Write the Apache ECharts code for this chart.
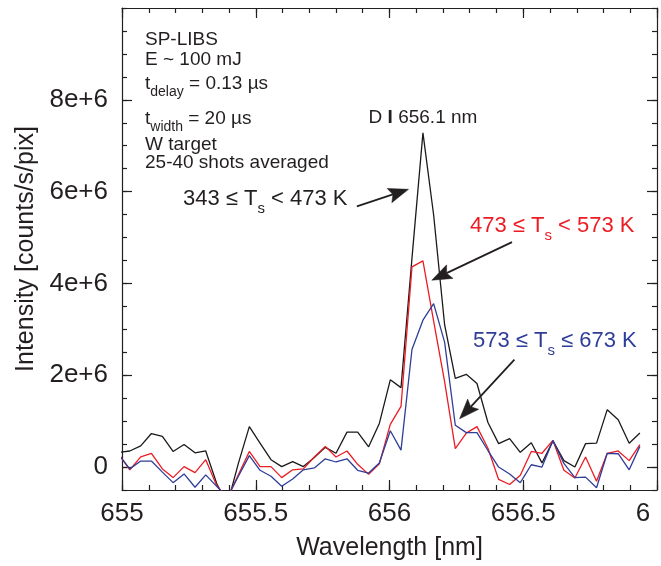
<!DOCTYPE html>
<html><head><meta charset="utf-8">
<script src="https://cdn.jsdelivr.net/npm/echarts@6/dist/echarts.min.js"></script>
<style>html,body{margin:0;padding:0;background:#fff}#c{width:661px;height:566px}</style>
</head><body><div id="c"></div>
<script>
// Wavelength of each spectrometer pixel [nm]
const wavelength = [654.988, 655.029, 655.070, 655.110, 655.151, 655.191, 655.232, 655.273, 655.313, 655.354,
  655.394, 655.435, 655.476, 655.516, 655.557, 655.597, 655.638, 655.678, 655.719, 655.760,
  655.800, 655.841, 655.881, 655.922, 655.962, 656.003, 656.043, 656.084, 656.125, 656.165,
  656.206, 656.246, 656.287, 656.327, 656.368, 656.408, 656.449, 656.489, 656.530, 656.570,
  656.611, 656.652, 656.693, 656.733, 656.774, 656.814, 656.855, 656.896, 656.936];
// Intensity in units of 1e+6 counts/s/pix
const ts343to473 = [0.32, 0.35, 0.46, 0.73, 0.67, 0.34, 0.49, 0.31, 0.35, -0.36, -0.81, 0.08,
  0.88, 0.52, 0.16, 0.01, 0.12, 0.01, 0.21, 0.43, 0.30, 0.76, 0.76, 0.44, 0.95,
  1.90, 1.73, 4.55, 7.28, 5.49, 3.10, 1.93, 2.02, 1.82, 0.97, 0.51, 0.62, 0.32, 0.53,
  0.09, 0.57, 0.14, 0.00, 0.51, 0.52, 1.25, 1.03, 0.52, 0.74];
const ts473to573 = [0.28, -0.06, 0.22, 0.30, -0.04, -0.23, 0.01, -0.12, 0.16, -0.40, -0.68, -0.17,
  0.34, 0.01, 0.01, -0.23, -0.06, -0.04, 0.22, 0.45, 0.22, 0.35, 0.06, -0.16, 0.07,
  0.93, 1.32, 4.36, 4.49, 3.18, 1.86, 0.40, 0.74, 0.88, 0.41, -0.27, -0.38, -0.18, 0.34,
  0.30, 0.58, -0.07, -0.24, 0.22, -0.31, 0.30, 0.35, 0.14, 0.49];
const ts573to673 = [0.27, -0.04, 0.13, 0.13, -0.11, -0.34, -0.15, -0.44, -0.17, -0.42, -0.66, -0.20,
  0.25, -0.07, -0.20, -0.42, -0.26, -0.06, -0.02, 0.18, 0.11, 0.18, -0.07, -0.13, 0.09,
  0.79, 0.37, 2.56, 3.20, 3.56, 2.72, 0.91, 0.75, 0.75, 0.36, 0.00, -0.15, -0.34, 0.05,
  0.00, 0.58, 0.08, -0.23, -0.22, -0.45, 0.30, 0.29, -0.06, 0.45];

const xTickValues = [655, 655.5, 656, 656.5, 657];
const xTickLabels = ['655', '655.5', '656', '656.5', '6'];
const yTickValues = [0, 2, 4, 6, 8];
const yTickLabels = ['0', '2e+6', '4e+6', '6e+6', '8e+6'];

// Annotation arrows in data coordinates: [tail, tip]
const arrowPoints = [
  [[655.878, 5.68], [656.071, 6.05]],
  [[656.458, 4.90], [656.158, 4.07]],
  [[656.467, 2.34], [656.262, 1.05]]
];

const FONT = '"Liberation Sans", Arial, Helvetica, sans-serif';
const INK = '#231f20';
const RED = '#ec1c24';
const BLUE = '#2e3d98';

const chart = echarts.init(document.getElementById('c'), null, {renderer: 'canvas'});

function pair(arr) { return wavelength.map((w, i) => [w, arr[i]]); }

const tickStyle = {color: INK, width: 1.2};
function xAx(pos, interval, len, main) {
  return {
    type: 'value', position: pos, min: 655, max: 657, interval: interval,
    axisLine: {show: !!main, onZero: false, lineStyle: tickStyle},
    axisTick: {show: true, inside: true, length: len, lineStyle: tickStyle},
    axisLabel: {show: false}, splitLine: {show: false}
  };
}
function yAx(pos, len, main, custom) {
  const a = {
    type: 'value', position: pos, min: -0.5, max: 10, interval: 0.5,
    axisLine: {show: !!main, onZero: false, lineStyle: tickStyle},
    axisTick: {show: true, inside: true, length: len, lineStyle: tickStyle},
    axisLabel: {show: false}, splitLine: {show: false}
  };
  if (custom) { a.axisTick.customValues = yTickValues; }
  return a;
}

const xMain = xAx('bottom', 0.5, 10, true);
xMain.axisLabel = {
  show: true, margin: 11, fontSize: 26, fontFamily: FONT, color: INK,
  formatter: function (v) {
    const i = xTickValues.findIndex(t => Math.abs(t - v) < 1e-6);
    if (i < 0) return '';
    if (i === xTickValues.length - 1) return '{r|' + xTickLabels[i] + '}';
    return xTickLabels[i];
  },
  rich: {r: {fontSize: 26, fontFamily: FONT, color: INK, padding: [0, 28, 0, 0]}}
};
xMain.name = 'Wavelength [nm]';
xMain.nameLocation = 'middle';
xMain.nameGap = 46;
xMain.nameTextStyle = {fontSize: 25, fontFamily: FONT, color: INK};

const yMain = yAx('left', 10, true, true);
yMain.axisLabel = {
  show: true, margin: 14, fontSize: 26, fontFamily: FONT, color: INK,
  customValues: yTickValues,
  formatter: function (v) {
    const i = yTickValues.findIndex(t => Math.abs(t - v) < 1e-6);
    return i < 0 ? '' : yTickLabels[i];
  }
};
yMain.name = 'Intensity [counts/s/pix]';
yMain.nameLocation = 'middle';
yMain.nameGap = 78;
yMain.nameRotate = 90;
yMain.nameTextStyle = {fontSize: 25, fontFamily: FONT, color: INK};

const option = {
  animation: false,
  backgroundColor: '#fff',
  grid: {left: 122, right: 4, top: 8, bottom: 76, containLabel: false},
  xAxis: [xMain, xAx('bottom', 0.1, 5, false), xAx('top', 0.5, 10, true), xAx('top', 0.1, 5, false)],
  yAxis: [yMain, yAx('left', 5, false, false), yAx('right', 10, true, true), yAx('right', 5, false, false)],
  series: [
    {type: 'line', name: '343-473', data: pair(ts343to473), showSymbol: false, symbol: 'none',
     lineStyle: {color: '#1a1a1a', width: 1.3}, xAxisIndex: 0, yAxisIndex: 0, clip: true, z: 3},
    {type: 'line', name: '473-573', data: pair(ts473to573), showSymbol: false, symbol: 'none',
     lineStyle: {color: RED, width: 1.3}, xAxisIndex: 0, yAxisIndex: 0, clip: true, z: 4},
    {type: 'line', name: '573-673', data: pair(ts573to673), showSymbol: false, symbol: 'none',
     lineStyle: {color: BLUE, width: 1.3}, xAxisIndex: 0, yAxisIndex: 0, clip: true, z: 5}
  ]
};
chart.setOption(option);

// Annotations
function txt(x, y, text, size, color, rich) {
  return {type: 'text', x: x, y: y, z: 100, silent: true,
    style: {text: text, fontSize: size, fontFamily: FONT, fill: color, align: 'left', verticalAlign: 'middle', rich: rich || {}}};
}
const richSmall = {
  m: {fontSize: 19, fontFamily: FONT, fill: INK, color: INK, lineHeight: 22},
  s: {fontSize: 14, fontFamily: FONT, fill: INK, color: INK, lineHeight: 22, padding: [16, 0, 0, 0]}
};
function richTs(color) {
  return {
    m: {fontSize: 22, fontFamily: FONT, fill: color, color: color, lineHeight: 26},
    s: {fontSize: 15, fontFamily: FONT, fill: color, color: color, lineHeight: 26, padding: [20, 0, 0, 0]}
  };
}
const graphics = [
  txt(145, 40, 'SP-LIBS', 19, INK),
  txt(145, 60, 'E ~ 100 mJ', 19, INK),
  txt(145, 84, '{m|t}{s|delay}{m| = 0.13 µs}', 19, INK, richSmall),
  txt(145, 119, '{m|t}{s|width}{m| = 20 µs}', 19, INK, richSmall),
  txt(145, 145, 'W target', 19, INK),
  txt(145, 163, '25-40 shots averaged', 19, INK),
  txt(183, 199, '{m|343 ≤ T}{s|s}{m| < 473 K}', 22, INK, richTs(INK)),
  txt(470, 226, '{m|473 ≤ T}{s|s}{m| < 573 K}', 22, RED, richTs(RED)),
  txt(473, 341, '{m|573 ≤ T}{s|s}{m| ≤ 673 K}', 22, BLUE, richTs(BLUE)),
  {type: 'text', x: 423, y: 118, z: 100, silent: true,
   style: {text: 'D {b|I} 656.1 nm', fontSize: 19, fontFamily: FONT, fill: INK, align: 'center', verticalAlign: 'middle',
     rich: {b: {fontSize: 19, fontFamily: FONT, fontWeight: 'bold', fill: INK}}}}
];
arrowPoints.forEach(function (a) {
  const p0 = chart.convertToPixel({seriesIndex: 0}, a[0]);
  const p1 = chart.convertToPixel({seriesIndex: 0}, a[1]);
  const dx = p1[0] - p0[0], dy = p1[1] - p0[1];
  const L = Math.sqrt(dx * dx + dy * dy);
  const ux = dx / L, uy = dy / L, nx = -uy, ny = ux;
  const hl = 20, hw = 7.5;
  const bx = p1[0] - hl * ux, by = p1[1] - hl * uy;
  const notchX = p1[0] - hl * 0.82 * ux, notchY = p1[1] - hl * 0.82 * uy;
  graphics.push({type: 'line', z: 99, silent: true,
    shape: {x1: p0[0], y1: p0[1], x2: notchX, y2: notchY},
    style: {stroke: INK, lineWidth: 1.8}});
  graphics.push({type: 'polygon', z: 99, silent: true,
    shape: {points: [[p1[0], p1[1]], [bx + hw * nx, by + hw * ny], [notchX, notchY], [bx - hw * nx, by - hw * ny]]},
    style: {fill: INK, stroke: INK, lineWidth: 0.5}});
});
chart.setOption({graphic: graphics});
</script>
</body></html>
